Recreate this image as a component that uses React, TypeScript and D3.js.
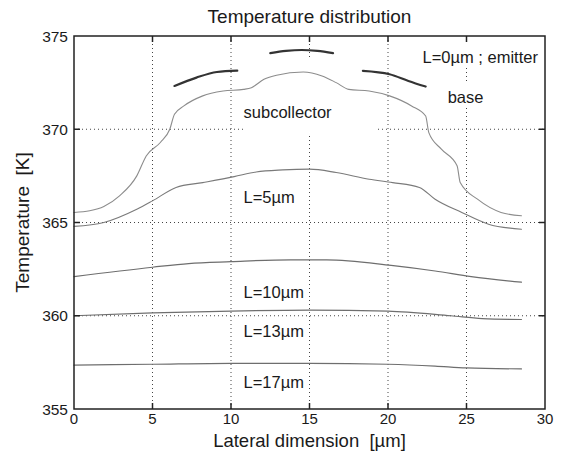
import { useEffect, useRef } from "react";
import * as d3 from "d3";

const xTicks = [0, 5, 10, 15, 20, 25, 30];
const yTicks = [355, 360, 365, 370, 375];
const xGrid = [5, 10, 15, 20, 25];
const yGrid = [360, 365, 370];

// L=0um, emitter fingers (three short dark pieces)
const emitterLeftX = [6.4, 7.8, 9.1, 10.4];
const emitterLeftT = [372.32, 372.77, 373.07, 373.14];
const emitterMidX = [12.5, 13.5, 14.5, 15.5, 16.5];
const emitterMidT = [374.08, 374.2, 374.25, 374.2, 374.08];
const emitterRightX = [18.4, 20.1, 21.3, 22.4];
const emitterRightT = [373.13, 372.95, 372.59, 372.29];

// L=0um, base
const baseX = [0, 1.0, 1.9, 2.9, 4.0, 4.6, 5.5, 6.1, 6.4, 7.0, 8.2, 9.5, 10.8, 11.3, 12.1, 12.9, 14.6, 15.8, 16.7, 17.5, 18.8, 20.1, 21.5, 22.4, 22.6, 23.4, 24.4, 24.6, 25.7, 27.2, 28.5];
const baseT = [365.54, 365.63, 365.86, 366.43, 367.5, 368.57, 369.29, 370.0, 370.8, 371.25, 371.79, 372.05, 372.14, 372.23, 372.68, 372.9, 373.07, 372.86, 372.5, 372.14, 372.05, 371.79, 371.25, 370.71, 369.82, 368.93, 368.04, 367.14, 366.25, 365.54, 365.36];

const l5X = [0, 1.9, 4.0, 5.0, 6.5, 8.2, 10.2, 11.6, 13.3, 15.0, 16.7, 18.8, 20.3, 22.0, 23.0, 24.7, 26.4, 28.5];
const l5T = [364.79, 365.0, 365.71, 366.16, 366.88, 367.14, 367.46, 367.71, 367.82, 367.86, 367.68, 367.32, 367.14, 366.88, 366.25, 365.54, 364.91, 364.64];

const l10X = [0, 5, 7.3, 10, 13.8, 16.1, 20.2, 23, 25.3, 28.5];
const l10T = [362.1, 362.6, 362.8, 362.9, 363.0, 363.0, 362.7, 362.4, 362.1, 361.8];

const l13X = [0, 5, 10, 15, 20, 24, 26, 28.5];
const l13T = [360.0, 360.15, 360.25, 360.3, 360.25, 360.0, 359.85, 359.8];

const l17X = [0, 5, 10, 15, 20, 23, 25, 28.5];
const l17T = [357.35, 357.4, 357.45, 357.45, 357.4, 357.3, 357.2, 357.15];

const labels = ["L=0µm ; emitter", "base", "subcollector", "L=5µm", "L=10µm", "L=13µm", "L=17µm"];

const W = 568;
const H = 456;
const margin = { top: 36, right: 23, bottom: 47, left: 74 };
const font = "'Liberation Sans', Arial, Helvetica, sans-serif";

export default function App() {
  const svgRef = useRef<SVGSVGElement | null>(null);

  useEffect(() => {
    if (!svgRef.current) return;
    const svg = d3.select(svgRef.current);
    svg.selectAll("*").remove();

    const x = d3.scaleLinear().domain([0, 30]).range([margin.left, W - margin.right]);
    const y = d3.scaleLinear().domain([355, 375]).range([H - margin.bottom, margin.top]);
    const [x0, x1] = x.range();
    const [y0, y1] = y.range();

    svg.append("rect").attr("width", W).attr("height", H).attr("fill", "#fff");

    // dotted grid
    const grid = svg.append("g").attr("stroke", "#444").attr("stroke-width", 1).attr("stroke-dasharray", "1,3");
    grid.selectAll("line.v").data(xGrid).enter().append("line")
      .attr("x1", (d) => x(d)).attr("x2", (d) => x(d)).attr("y1", y1).attr("y2", y0);
    grid.selectAll("line.h").data(yGrid).enter().append("line")
      .attr("x1", x0).attr("x2", x1).attr("y1", (d) => y(d)).attr("y2", (d) => y(d));

    // text boxes hide the grid under them
    const boxes: [number, number, number, number][] = [
      [10.8, 19.2, 369.64, 373.8],
      [21.7, 29.95, 373.3, 374.95],
      [23.6, 26.3, 371.2, 372.5],
    ];
    svg.selectAll("rect.box").data(boxes).enter().append("rect")
      .attr("x", (d) => x(d[0])).attr("width", (d) => x(d[1]) - x(d[0]))
      .attr("y", (d) => y(d[3])).attr("height", (d) => y(d[2]) - y(d[3]))
      .attr("fill", "#fff");

    const line = d3.line<[number, number]>()
      .x((d) => x(d[0]))
      .y((d) => y(d[1]))
      .curve(d3.curveMonotoneX);
    const pts = (xs: number[], ts: number[]) => xs.map((v, i) => [v, ts[i]] as [number, number]);

    const curves = [
      { d: pts(baseX, baseT), c: "#8c8c8c", w: 1.1 },
      { d: pts(l5X, l5T), c: "#7a7a7a", w: 1.1 },
      { d: pts(l10X, l10T), c: "#6e6e6e", w: 1.2 },
      { d: pts(l13X, l13T), c: "#6e6e6e", w: 1.2 },
      { d: pts(l17X, l17T), c: "#6e6e6e", w: 1.2 },
      { d: pts(emitterLeftX, emitterLeftT), c: "#333", w: 2.2 },
      { d: pts(emitterMidX, emitterMidT), c: "#333", w: 2.2 },
      { d: pts(emitterRightX, emitterRightT), c: "#333", w: 2.2 },
    ];
    svg.selectAll("path.curve").data(curves).enter().append("path")
      .attr("d", (d) => line(d.d))
      .attr("fill", "none")
      .attr("stroke", (d) => d.c)
      .attr("stroke-width", (d) => d.w)
      .attr("stroke-linecap", "round");

    // frame with inward ticks
    const frame = svg.append("g").attr("stroke", "#222").attr("stroke-width", 1.5);
    frame.append("rect").attr("x", x0).attr("y", y1).attr("width", x1 - x0).attr("height", y0 - y1).attr("fill", "none");
    const tl = 6;
    xTicks.slice(1, -1).forEach((t) => {
      frame.append("line").attr("x1", x(t)).attr("x2", x(t)).attr("y1", y0).attr("y2", y0 - tl);
      frame.append("line").attr("x1", x(t)).attr("x2", x(t)).attr("y1", y1).attr("y2", y1 + tl);
    });
    yTicks.slice(1, -1).forEach((t) => {
      frame.append("line").attr("x1", x0).attr("x2", x0 + tl).attr("y1", y(t)).attr("y2", y(t));
      frame.append("line").attr("x1", x1).attr("x2", x1 - tl).attr("y1", y(t)).attr("y2", y(t));
    });

    const txt = svg.append("g").attr("font-family", font).attr("fill", "#1a1a1a");
    txt.selectAll("text.xt").data(xTicks).enter().append("text")
      .attr("x", (d) => x(d)).attr("y", y0 + 15)
      .attr("text-anchor", "middle").attr("font-size", 15)
      .text((d) => d);
    txt.selectAll("text.yt").data(yTicks).enter().append("text")
      .attr("x", x0 - 6).attr("y", (d) => y(d)).attr("dy", "0.36em")
      .attr("text-anchor", "end").attr("font-size", 15.5)
      .text((d) => d);

    txt.append("text").attr("x", (x0 + x1) / 2).attr("y", 23)
      .attr("text-anchor", "middle").attr("font-size", 19).text("Temperature distribution");
    txt.append("text").attr("x", (x0 + x1) / 2).attr("y", 447)
      .attr("text-anchor", "middle").attr("font-size", 18.5).style("white-space", "pre")
      .text("Lateral dimension  [µm]");
    txt.append("text").attr("transform", `translate(29, ${(y0 + y1) / 2}) rotate(-90)`)
      .attr("text-anchor", "middle").attr("font-size", 19).style("white-space", "pre")
      .text("Temperature  [K]");

    // curve labels, anchored in data units
    const labelPos: [number, number][] = [
      [22.2, 373.55],
      [23.8, 371.4],
      [10.8, 370.6],
      [10.8, 366.05],
      [10.8, 360.95],
      [10.8, 358.86],
      [10.8, 356.13],
    ];
    txt.selectAll("text.lab").data(labels).enter().append("text")
      .attr("x", (_, i) => x(labelPos[i][0]))
      .attr("y", (_, i) => y(labelPos[i][1]))
      .attr("font-size", 16.5)
      .text((d) => d);
  }, []);

  return <svg ref={svgRef} width={W} height={H} style={{ position: "absolute", left: 0, top: 0 }} />;
}
